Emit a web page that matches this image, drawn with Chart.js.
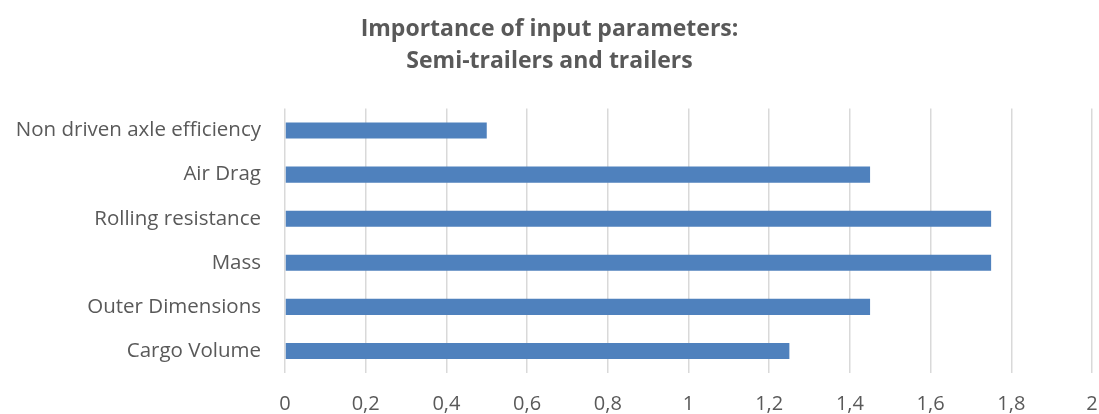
<!DOCTYPE html>
<html lang="en">
<head>
  <meta charset="UTF-8" />
  <title>Importance of input parameters</title>
  <script src="https://cdn.jsdelivr.net/npm/chart.js"></script>
  <style>
    html, body { margin: 0; padding: 0; background: #fff; }
    #wrap { width: 1099px; height: 414px; }
  </style>
</head>
<body>
  <div id="wrap"><canvas id="importance"></canvas></div>

  <script>
    // data
    const parameters = ['Non driven axle efficiency', 'Air Drag', 'Rolling resistance', 'Mass', 'Outer Dimensions', 'Cargo Volume'];
    const importance = [0.5, 1.45, 1.75, 1.75, 1.45, 1.25];
    const titleLines = ['Importance of input parameters:', 'Semi-trailers and trailers'];
    const xMin = 0, xMax = 2, xStep = 0.2;

    const grey = '#595959';
    Chart.defaults.font.family = '"Open Sans", sans-serif';
    Chart.defaults.color = grey;

    new Chart(document.getElementById('importance'), {
      type: 'bar',
      data: {
        labels: parameters,
        datasets: [{
          data: importance,
          backgroundColor: '#4f81bd',
          barPercentage: 0.364,
          categoryPercentage: 1
        }]
      },
      options: {
        indexAxis: 'y',
        responsive: true,
        maintainAspectRatio: false,
        animation: false,
        layout: { padding: { top: 14, right: 0, left: 0, bottom: 0 } },
        plugins: {
          legend: { display: false },
          tooltip: { enabled: false },
          title: {
            display: true,
            text: titleLines,
            color: grey,
            font: { size: 23, weight: 'bold', lineHeight: 1.38 },
            padding: { top: 0, bottom: 31 }
          }
        },
        scales: {
          x: {
            min: xMin, max: xMax,
            ticks: {
              stepSize: xStep,
              font: { size: 20 },
              padding: 19,
              callback: v => String(Math.round(v * 10) / 10).replace('.', ',')
            },
            grid: { color: '#d9d9d9', lineWidth: 1.5, drawTicks: false },
            border: { display: false },
            afterFit: s => { s.height = 41; s.paddingRight = 7; }
          },
          y: {
            ticks: { font: { size: 20.5 }, padding: 16 },
            grid: { display: false },
            border: { display: false },
            afterFit: s => { s.width = 285; }
          }
        }
      }
    });
  </script>
</body>
</html>
